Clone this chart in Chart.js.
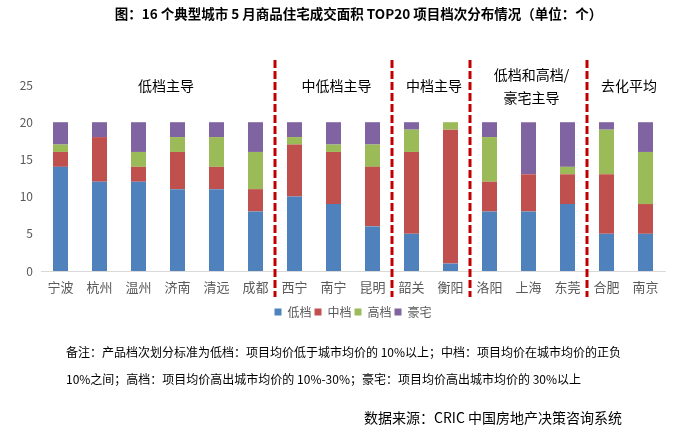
<!DOCTYPE html>
<html>
<head>
<meta charset="utf-8">
<script src="https://cdn.jsdelivr.net/npm/chart.js@4"></script>
<style>
  html, body { margin:0; padding:0; background:#fff; }
  body { width:677px; height:436px; position:relative; overflow:hidden; font-family:"Noto Sans CJK SC", sans-serif; }
  #wrap { position:absolute; left:0; top:0; width:677px; height:436px; }
  .txt { position:absolute; white-space:nowrap; color:#000; }
  #title { left:20px; width:677px; text-align:center; top:3px; font-size:13.5px; font-weight:bold; line-height:20px; }
  #note1 { left:66px; top:343px; font-size:12px; line-height:18px; }
  #note2 { left:66px; top:370px; font-size:12px; line-height:18px; }
  #src { left:364px; top:407px; font-size:14px; line-height:20px; }
</style>
</head>
<body>
<div id="wrap"><canvas id="c"></canvas></div>
<div class="txt" id="title">图：16 个典型城市 5 月商品住宅成交面积 TOP20 项目档次分布情况（单位：个）</div>
<div class="txt" id="note1">备注：产品档次划分标准为低档：项目均价低于城市均价的 10%以上；中档：项目均价在城市均价的正负</div>
<div class="txt" id="note2">10%之间；高档：项目均价高出城市均价的 10%-30%；豪宅：项目均价高出城市均价的 30%以上</div>
<div class="txt" id="src">数据来源：CRIC 中国房地产决策咨询系统</div>
<script>
const cities = ["宁波","杭州","温州","济南","清远","成都","西宁","南宁","昆明","韶关","衡阳","洛阳","上海","东莞","合肥","南京"];
const low    = [14,12,12,11,11, 8,10, 9, 6, 5, 1, 8, 8, 9, 5, 5];
const mid    = [ 2, 6, 2, 5, 3, 3, 7, 7, 8,11,18, 4, 5, 4, 8, 4];
const high   = [ 1, 0, 2, 2, 4, 5, 1, 1, 3, 3, 1, 6, 0, 1, 6, 7];
const luxury = [ 3, 2, 4, 2, 2, 4, 2, 3, 3, 1, 0, 2, 7, 6, 1, 4];
const seriesNames = ["低档","中档","高档","豪宅"];
const yTicks = [0,5,10,15,20,25];
const groupLabels = [["低档主导"],["中低档主导"],["中档主导"],["低档和高档/","豪宅主导"],["去化平均"]];
const groupLastIndex = [5,8,10,13,15];

const colors = ["#4F81BD","#C0504D","#9BBB59","#8064A2"];
const FONT = '"Noto Sans CJK SC", sans-serif';

const groupPlugin = {
  id: 'groups',
  afterDraw(chart) {
    const ctx = chart.ctx;
    const x = chart.scales.x;
    const area = chart.chartArea;
    const bounds = [];
    for (let g = 0; g < groupLastIndex.length - 1; g++) {
      const i = groupLastIndex[g];
      bounds.push((x.getPixelForValue(i) + x.getPixelForValue(i + 1)) / 2);
    }
    ctx.save();
    ctx.strokeStyle = "#C00000";
    ctx.lineWidth = 3;
    ctx.setLineDash([8, 3]);
    bounds.forEach(b => {
      ctx.beginPath();
      ctx.moveTo(b, 60);
      ctx.lineTo(b, 297);
      ctx.stroke();
    });
    ctx.setLineDash([]);
    const edges = [area.left + 10, ...bounds, area.right];
    ctx.fillStyle = "#000";
    ctx.font = "14px " + FONT;
    ctx.textAlign = "center";
    ctx.textBaseline = "middle";
    groupLabels.forEach((lines, g) => {
      const cx = (edges[g] + edges[g + 1]) / 2 + 3;
      if (lines.length === 1) {
        ctx.fillText(lines[0], cx, 86);
      } else {
        ctx.fillText(lines[0], cx, 75);
        ctx.fillText(lines[1], cx, 98);
      }
    });
    ctx.restore();
  }
};

const dataArrays = [low, mid, high, luxury];
new Chart(document.getElementById('c'), {
  type: 'bar',
  data: {
    labels: cities,
    datasets: dataArrays.map((d, i) => ({
      label: seriesNames[i],
      data: d,
      backgroundColor: colors[i],
      borderWidth: 0,
      barPercentage: 0.385,
      categoryPercentage: 1
    }))
  },
  options: {
    responsive: true,
    maintainAspectRatio: false,
    animation: false,
    devicePixelRatio: 1,
    layout: { padding: { top: 85, left: 0, right: 12, bottom: 108 } },
    plugins: {
      title: { display: false },
      tooltip: { enabled: false },
      legend: {
        position: 'bottom',
        fullSize: false,
        labels: {
          boxWidth: 7, boxHeight: 7, padding: 3,
          color: "#595959",
          font: { size: 12, family: FONT }
        }
      }
    },
    scales: {
      x: {
        stacked: true,
        grid: { display: false, drawTicks: false },
        border: { display: true, color: "#D9D9D9", width: 1 },
        ticks: { color: "#595959", font: { size: 13, family: FONT }, padding: 8, maxRotation: 0, autoSkip: false },
        afterFit(s) { s.height = 32; }
      },
      y: {
        stacked: true,
        min: 0, max: 25,
        grid: { display: false, drawTicks: false },
        border: { display: false },
        afterBuildTicks(s) { s.ticks = yTicks.map(v => ({ value: v })); },
        ticks: { color: "#595959", font: { size: 12, family: FONT }, padding: 8 },
        afterFit(s) { s.width = 41; }
      }
    }
  },
  plugins: [groupPlugin]
});
</script>
</body>
</html>
